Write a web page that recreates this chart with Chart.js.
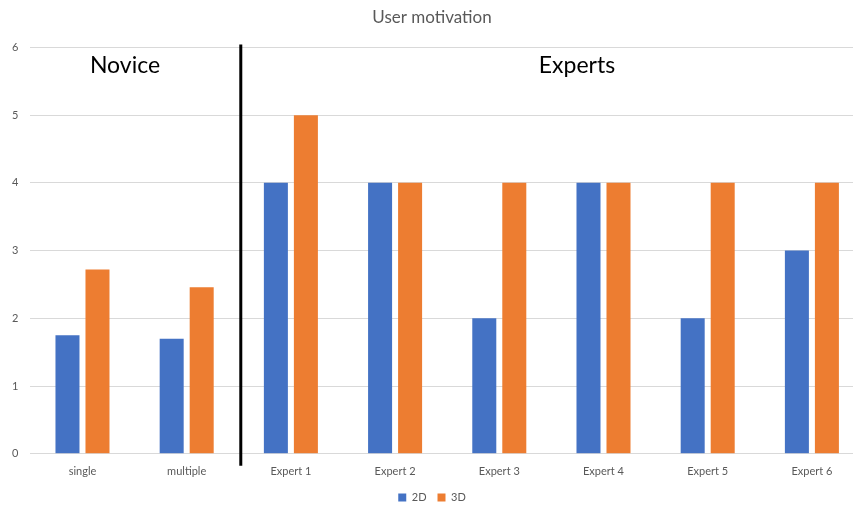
<!DOCTYPE html>
<html>
<head>
<meta charset="utf-8">
<script src="https://cdn.jsdelivr.net/npm/chart.js@4/dist/chart.umd.min.js"></script>
<style>
  html, body { margin: 0; padding: 0; background: #fff; overflow: hidden; }
  #wrap { width: 882px; height: 507px; }
</style>
</head>
<body>
<div id="wrap"><canvas id="barChart"></canvas></div>
<script>
const categories = ["single", "multiple", "Expert 1", "Expert 2", "Expert 3", "Expert 4", "Expert 5", "Expert 6"];
const values2D = [1.75, 1.70, 4, 4, 2, 4, 2, 3];
const values3D = [2.72, 2.46, 5, 4, 4, 4, 4, 4];
const yTicks = [0, 1, 2, 3, 4, 5, 6];

// divider line + group labels
const groupPlugin = {
  id: "groups",
  afterDatasetsDraw(chart) {
    const { ctx, chartArea, scales } = chart;
    const x = (scales.x.getPixelForValue(1) + scales.x.getPixelForValue(2)) / 2 + 2;
    ctx.save();
    ctx.strokeStyle = "#000";
    ctx.lineWidth = 3;
    ctx.beginPath();
    ctx.moveTo(x, chartArea.top - 3);
    ctx.lineTo(x, chartArea.bottom + 12);
    ctx.stroke();

    ctx.fillStyle = "#000";
    ctx.font = "23px Lato, 'Open Sans', sans-serif";
    ctx.textAlign = "center";
    ctx.textBaseline = "middle";
    ctx.fillText("Novice", 125, 66);
    ctx.fillText("Experts", 577, 66);
    ctx.restore();
  },
};

document.addEventListener("DOMContentLoaded", function () {
  const ctx = document.getElementById("barChart").getContext("2d");

  const myChart = new Chart(ctx, {
    type: "bar",
    data: {
      labels: categories,
      datasets: [
        {
          label: "2D",
          data: values2D,
          backgroundColor: "#4472c4",
          categoryPercentage: 0.576,
          barPercentage: 0.8,
        },
        {
          label: "3D",
          data: values3D,
          backgroundColor: "#ed7d31",
          categoryPercentage: 0.576,
          barPercentage: 0.8,
        },
      ],
    },
    options: {
      responsive: true,
      maintainAspectRatio: false,
      animation: false,
      layout: { padding: { left: 0, right: 18, top: 0, bottom: -6 } },
      plugins: {
        title: {
          display: true,
          text: "User motivation",
          color: "#595959",
          font: { family: "Lato, 'Open Sans', sans-serif", size: 17, weight: "normal" },
          padding: { top: 7, bottom: 20 },
        },
        legend: {
          position: "bottom",
          labels: {
            color: "#595959",
            font: { family: "Lato, 'Open Sans', sans-serif", size: 11 },
            boxWidth: 8,
            boxHeight: 8,
            padding: 11,
          },
        },
        tooltip: { enabled: false },
      },
      scales: {
        x: {
          grid: { display: false },
          border: { color: "#d9d9d9" },
          ticks: {
            color: "#595959",
            font: { family: "Lato, 'Open Sans', sans-serif", size: 11 },
            padding: 3,
          },
        },
        y: {
          min: 0,
          max: 6,
          afterBuildTicks: (axis) => {
            axis.ticks = yTicks.map((v) => ({ value: v }));
          },
          grid: { color: "#d9d9d9", drawTicks: false },
          border: { display: false },
          ticks: {
            color: "#595959",
            font: { family: "Lato, 'Open Sans', sans-serif", size: 11 },
            padding: 12,
          },
        },
      },
    },
    plugins: [groupPlugin],
  });
});
</script>
</body>
</html>
